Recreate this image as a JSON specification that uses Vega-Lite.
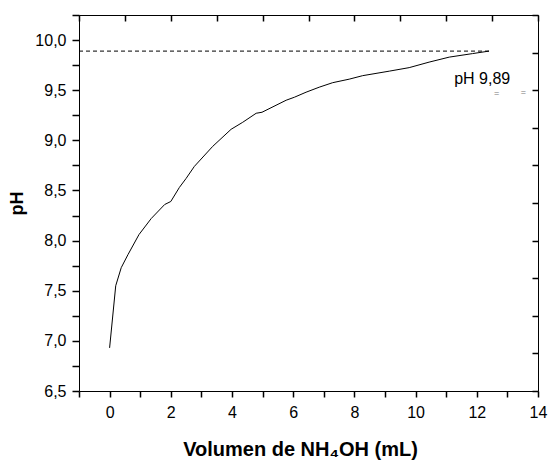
{
  "$schema": "https://vega.github.io/schema/vega-lite/v6.json",
  "width": 459,
  "height": 376,
  "autosize": {"type": "none"},
  "padding": {"left": 79, "top": 15, "right": 11, "bottom": 70},
  "config": {
    "view": {"stroke": null},
    "font": "Liberation Sans",
    "axis": {
      "grid": false,
      "domainColor": "black",
      "domainWidth": 1,
      "tickColor": "black",
      "tickWidth": 1.5,
      "labelColor": "black",
      "titleColor": "black",
      "labelFont": "Liberation Sans",
      "titleFont": "Liberation Sans",
      "labelFontSize": 16,
      "labelFlush": false,
      "labelOverlap": false,
      "labelBound": false
    }
  },
  "resolve": {"axis": {"x": "independent", "y": "independent"}},
  "layer": [
    {
      "data": {"values": [
        {"vol": 0, "ph": 6.93},
        {"vol": 0.2, "ph": 7.55},
        {"vol": 0.38, "ph": 7.73},
        {"vol": 0.6, "ph": 7.86},
        {"vol": 0.96, "ph": 8.06},
        {"vol": 1.36, "ph": 8.22},
        {"vol": 1.8, "ph": 8.36},
        {"vol": 2.0, "ph": 8.39},
        {"vol": 2.28, "ph": 8.53},
        {"vol": 2.5, "ph": 8.62},
        {"vol": 2.77, "ph": 8.74},
        {"vol": 3.37, "ph": 8.94},
        {"vol": 3.97, "ph": 9.11},
        {"vol": 4.35, "ph": 9.18},
        {"vol": 4.79, "ph": 9.27},
        {"vol": 4.98, "ph": 9.28},
        {"vol": 5.77, "ph": 9.40},
        {"vol": 6.04, "ph": 9.43},
        {"vol": 6.42, "ph": 9.48},
        {"vol": 6.85, "ph": 9.53},
        {"vol": 7.29, "ph": 9.575},
        {"vol": 7.83, "ph": 9.61},
        {"vol": 8.27, "ph": 9.645},
        {"vol": 9.14, "ph": 9.69},
        {"vol": 9.79, "ph": 9.725},
        {"vol": 10.44, "ph": 9.78},
        {"vol": 11.1, "ph": 9.83},
        {"vol": 11.86, "ph": 9.865},
        {"vol": 12.4, "ph": 9.89}
      ]},
      "mark": {"type": "line", "color": "black", "strokeWidth": 1},
      "encoding": {
        "x": {
          "field": "vol", "type": "quantitative",
          "scale": {"domain": [-1, 14], "nice": false, "zero": false},
          "axis": {
            "orient": "bottom",
            "values": [-1, 0, 1, 2, 3, 4, 5, 6, 7, 8, 9, 10, 11, 12, 13, 14],
            "labelExpr": "abs(round(datum.value)) % 2 == 0 ? format(datum.value, 'd') : ''",
            "tickSize": 6,
            "labelPadding": 7,
            "encode": {"ticks": {"update": {"y2": {"signal": "abs(round(datum.value)) % 2 == 0 ? 6 : 3"}}}},
            "title": "Volumen de NH₄OH (mL)",
            "titleFontSize": 20,
            "titleFontWeight": "bold",
            "titleBaseline": "alphabetic",
            "titleX": 221,
            "titleY": 64
          }
        },
        "y": {
          "field": "ph", "type": "quantitative",
          "scale": {"domain": [6.5, 10.25], "nice": false, "zero": false},
          "axis": {
            "orient": "left",
            "values": [6.5, 6.75, 7, 7.25, 7.5, 7.75, 8, 8.25, 8.5, 8.75, 9, 9.25, 9.5, 9.75, 10, 10.25],
            "labelExpr": "round(datum.value * 4) % 2 == 0 ? replace(format(datum.value, '.1f'), '.', ',') : ''",
            "tickSize": 7,
            "labelPadding": 6,
            "encode": {"ticks": {"update": {"x2": {"signal": "round(datum.value * 4) % 2 == 0 ? -7 : -3"}}}},
            "title": "pH",
            "titleFontSize": 18,
            "titleFontWeight": "bold",
            "titleBaseline": "alphabetic",
            "titleAngle": 270,
            "titleX": -57,
            "titleY": 188
          }
        }
      }
    },
    {
      "data": {"values": [{"vol": -1, "vol2": 12.4, "ph": 9.89}]},
      "mark": {"type": "rule", "color": "black", "strokeWidth": 1, "strokeDash": [4, 3]},
      "encoding": {
        "x": {
          "field": "vol", "type": "quantitative",
          "scale": {"domain": [-1, 14], "nice": false, "zero": false},
          "axis": {
            "orient": "top",
            "values": [-1, 0.5, 2, 3.5, 5, 6.5, 8, 9.5, 11, 12.5, 14],
            "labels": false,
            "tickSize": -6,
            "title": null
          }
        },
        "x2": {"field": "vol2"},
        "y": {
          "field": "ph", "type": "quantitative",
          "scale": {"domain": [6.5, 10.25], "nice": false, "zero": false},
          "axis": {
            "orient": "right",
            "values": [6.5, 6.875, 7.25, 7.625, 8, 8.375, 8.75, 9.125, 9.5, 9.875, 10.25],
            "labels": false,
            "tickSize": -6,
            "title": null
          }
        }
      }
    },
    {
      "data": {"values": [{"vol": 11.26, "ph": 9.563, "label": "pH 9,89"}]},
      "mark": {"type": "text", "align": "left", "baseline": "alphabetic", "fontSize": 16, "color": "black", "font": "Liberation Sans"},
      "encoding": {
        "x": {"field": "vol", "type": "quantitative", "scale": {"domain": [-1, 14], "nice": false, "zero": false}, "axis": null},
        "y": {"field": "ph", "type": "quantitative", "scale": {"domain": [6.5, 10.25], "nice": false, "zero": false}, "axis": null},
        "text": {"field": "label"}
      }
    },
    {
      "data": {"values": [{"vol": 12.65, "ph": 9.47, "label": "="}, {"vol": 13.52, "ph": 9.48, "label": "="}]},
      "mark": {"type": "text", "align": "center", "baseline": "middle", "fontSize": 9, "color": "#777777", "font": "Liberation Sans"},
      "encoding": {
        "x": {"field": "vol", "type": "quantitative", "scale": {"domain": [-1, 14], "nice": false, "zero": false}, "axis": null},
        "y": {"field": "ph", "type": "quantitative", "scale": {"domain": [6.5, 10.25], "nice": false, "zero": false}, "axis": null},
        "text": {"field": "label"}
      }
    }
  ]
}
